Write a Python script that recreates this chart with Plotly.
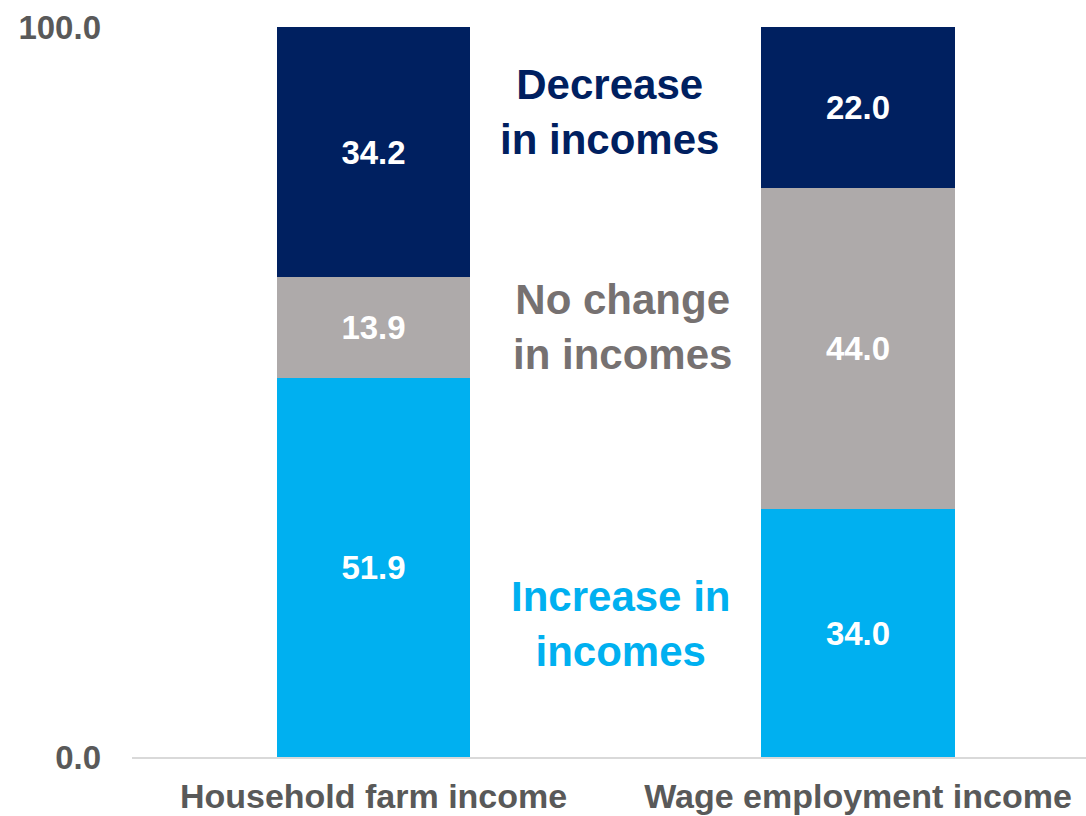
import plotly.graph_objects as go

# Share of households by change in income, per income source
categories = ["Household farm income", "Wage employment income"]
increase = [51.9, 34.0]
no_change = [13.9, 44.0]
decrease = [34.2, 22.0]

y_tick_vals = [0, 100]
y_tick_text = ["0.0", "100.0"]

series_names = ["Increase in incomes", "No change in incomes", "Decrease in incomes"]
series_values = [increase, no_change, decrease]
series_colors = ["#00B0F0", "#AEAAAA", "#002060"]
label_colors = ["#00B0F0", "#767171", "#002060"]

FONT = "Liberation Sans, Arial, sans-serif"

fig = go.Figure()
for name, vals, col in zip(series_names, series_values, series_colors):
    fig.add_trace(go.Bar(
        x=categories,
        y=vals,
        name=name,
        marker=dict(color=col, line=dict(width=0)),
        width=0.4,
        text=[f"{v:.1f}" for v in vals],
        textposition="inside",
        insidetextanchor="middle",
        textangle=0,
        textfont=dict(family=FONT, size=33, color="white", weight=700),
        hoverinfo="skip",
    ))

# In-chart series labels placed beside the bars
label_pos = [(0.509, 18.2, "Increase in<br>incomes"),
             (0.513, 58.9, "No change<br>in incomes"),
             (0.488, 88.4, "Decrease<br>in incomes")]
for (ax, ay, txt), col in zip(label_pos, label_colors):
    fig.add_annotation(
        x=ax, y=ay, xref="x", yref="y", text=txt, showarrow=False,
        font=dict(family=FONT, size=42, color=col, weight=700),
        align="center", xanchor="center", yanchor="middle",
    )

fig.update_layout(
    barmode="stack",
    width=1086,
    height=816,
    margin=dict(l=132, r=0, t=27, b=59),
    paper_bgcolor="white",
    plot_bgcolor="white",
    showlegend=False,
    bargap=0,
    font=dict(family=FONT, color="#595959"),
)
fig.update_xaxes(
    range=[-0.4985, 1.4706],
    showline=True, linecolor="#D9D9D9", linewidth=2,
    showgrid=False, ticks="",
    tickfont=dict(family=FONT, size=34, color="#595959", weight=700),
    ticklabelstandoff=8,
)
fig.update_yaxes(
    range=[0, 100],
    tickvals=y_tick_vals, ticktext=y_tick_text,
    showgrid=False, zeroline=False, showline=False, ticks="",
    tickfont=dict(family=FONT, size=33, color="#595959", weight=700),
    ticklabelstandoff=30,
)

fig.write_html("out.html")
